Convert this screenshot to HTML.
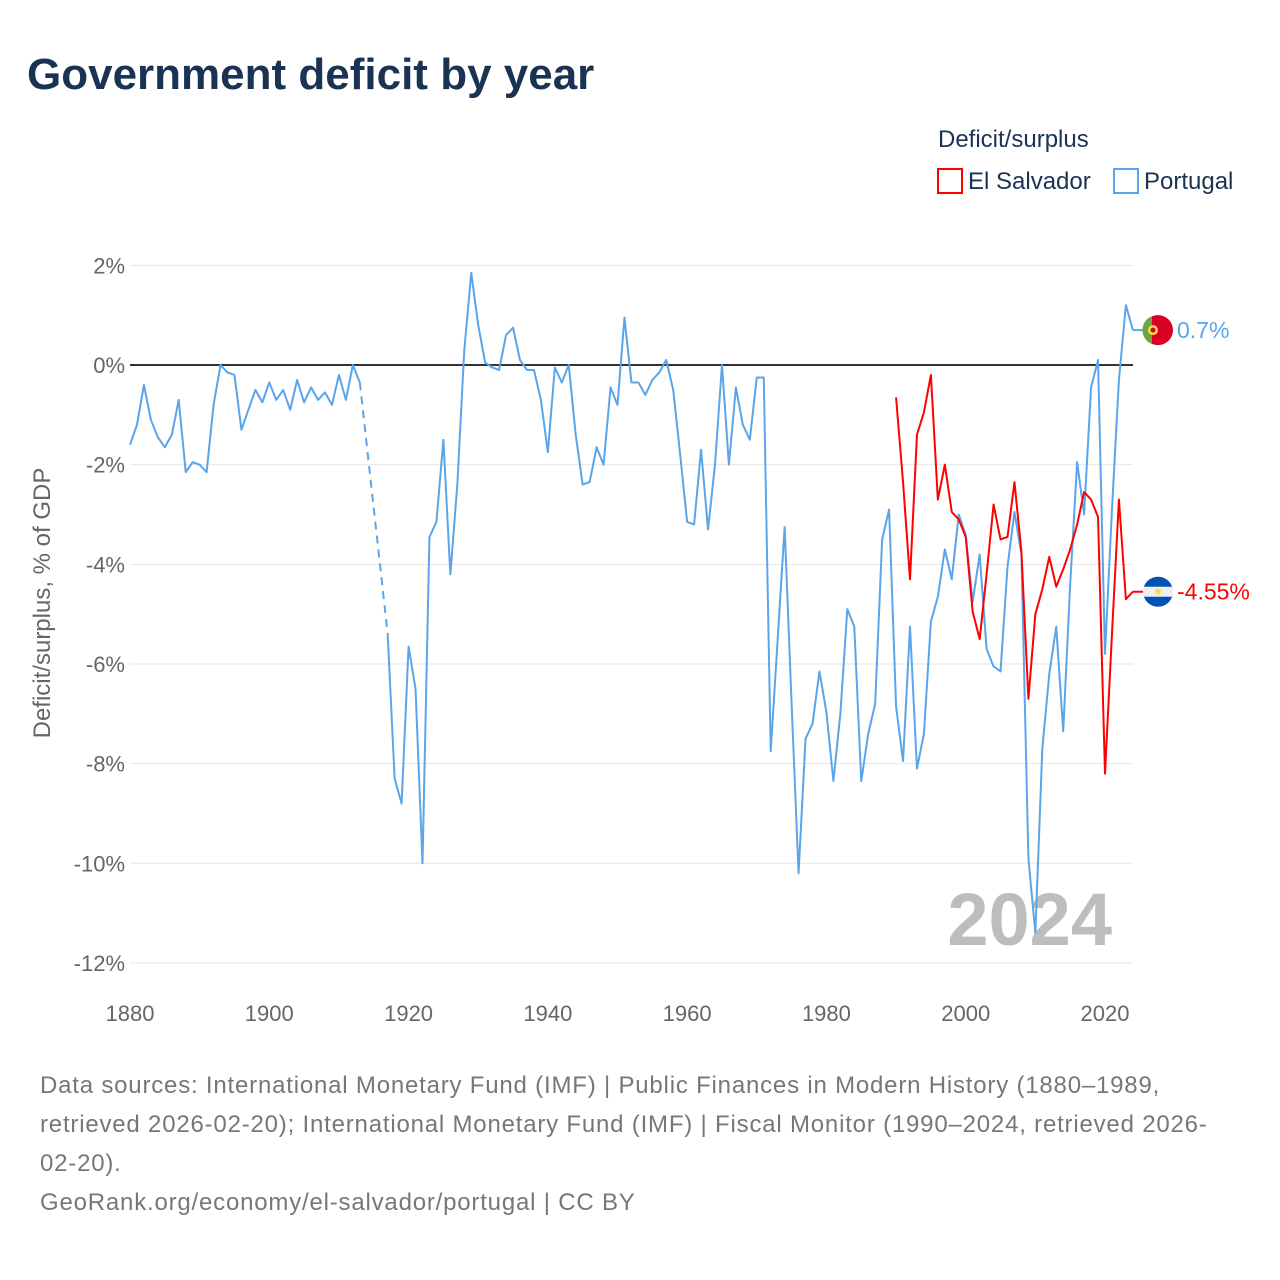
<!DOCTYPE html>
<html><head><meta charset="utf-8">
<style>
body{margin:0;background:#fff;font-family:"Liberation Sans",sans-serif;}
#wrap{position:relative;width:1280px;height:1280px;overflow:hidden;}
h1{position:absolute;left:27px;top:50px;margin:0;font-size:44px;font-weight:bold;color:#1b3353;letter-spacing:0px;}
.foot{position:absolute;left:40px;top:1066px;width:1230px;font-size:24px;line-height:39px;color:#777;letter-spacing:0.8px;white-space:nowrap;}
</style></head><body>
<div id="wrap">
<h1>Government deficit by year</h1>
<svg id="chart" width="1280" height="1280" style="position:absolute;left:0;top:0">
<text x="938" y="147" font-size="24" fill="#1b3353">Deficit/surplus</text>
<rect x="938" y="169" width="24" height="24" fill="none" stroke="#f00" stroke-width="2"/>
<text x="968" y="189" font-size="24" fill="#1b3353">El Salvador</text>
<rect x="1114" y="169" width="24" height="24" fill="none" stroke="#5aa5ea" stroke-width="2"/>
<text x="1144" y="189" font-size="24" fill="#1b3353">Portugal</text>
<text x="42" y="603" font-size="24" fill="#666" transform="rotate(-90 42 603)" text-anchor="middle" dy="8">Deficit/surplus, % of GDP</text>
<text x="1112" y="945" font-size="74" font-weight="bold" fill="#bdbdbd" text-anchor="end">2024</text>
<g id="grid"></g><g id="marks"></g>
</svg>
<div class="foot">Data sources: International Monetary Fund (IMF) | Public Finances in Modern History (1880–1989,<br>retrieved 2026-02-20); International Monetary Fund (IMF) | Fiscal Monitor (1990–2024, retrieved 2026-<br>02-20).<br><span>GeoRank.org/economy/el-salvador/portugal | CC BY</span></div>
</div>
<script>
const yTicks=[2,0,-2,-4,-6,-8,-10,-12];
const xTicks=[1880,1900,1920,1940,1960,1980,2000,2020];
const ptStart=1880;
const portugal=[-1.6,-1.2,-0.4,-1.1,-1.45,-1.65,-1.4,-0.7,-2.15,-1.95,-2.0,-2.15,-0.8,0.0,-0.15,-0.2,-1.3,-0.9,-0.5,-0.75,-0.35,-0.7,-0.5,-0.9,-0.3,-0.75,-0.45,-0.7,-0.55,-0.8,-0.2,-0.7,0.0,-0.35,null,null,null,-5.4,-8.3,-8.8,-5.65,-6.5,-10.0,-3.45,-3.15,-1.5,-4.2,-2.4,0.3,1.85,0.8,0.05,-0.05,-0.1,0.6,0.75,0.1,-0.1,-0.1,-0.7,-1.75,-0.05,-0.35,0.0,-1.4,-2.4,-2.35,-1.65,-2.0,-0.45,-0.8,0.95,-0.35,-0.35,-0.6,-0.3,-0.15,0.1,-0.5,-1.8,-3.15,-3.2,-1.7,-3.3,-2.0,0.0,-2.0,-0.45,-1.2,-1.5,-0.25,-0.25,-7.75,-5.5,-3.25,-6.8,-10.2,-7.5,-7.2,-6.15,-6.97,-8.35,-7.0,-4.9,-5.25,-8.35,-7.4,-6.8,-3.5,-2.9,-6.85,-7.95,-5.25,-8.1,-7.4,-5.15,-4.65,-3.7,-4.3,-3.0,-3.4,-4.75,-3.8,-5.7,-6.05,-6.15,-4.05,-2.95,-3.8,-9.9,-11.4,-7.7,-6.2,-5.25,-7.35,-4.4,-1.95,-3.0,-0.45,0.1,-5.8,-2.9,-0.3,1.2,0.7];
const svStart=1990;
const elSalvador=[-0.65,-2.35,-4.3,-1.4,-0.95,-0.2,-2.7,-2.0,-2.95,-3.1,-3.45,-4.95,-5.5,-4.2,-2.8,-3.5,-3.45,-2.35,-3.75,-6.7,-5.0,-4.5,-3.85,-4.45,-4.1,-3.7,-3.2,-2.55,-2.7,-3.05,-8.2,-5.4,-2.7,-4.7,-4.55];
const X=y=>130+(y-1880)*(975/140);
const Y=v=>365-v*49.83;
const NS='http://www.w3.org/2000/svg';
const grid=document.getElementById('grid'),marks=document.getElementById('marks');
function mk(tag,attrs,parent){const e=document.createElementNS(NS,tag);for(const k in attrs)e.setAttribute(k,attrs[k]);parent.appendChild(e);return e;}
yTicks.forEach(t=>{
  const l=mk('line',{x1:130,x2:1133,y1:Y(t),y2:Y(t),stroke:t===0?'#333':'#e6e6e6','stroke-width':t===0?2:1},grid);
  
  
  const tx=mk('text',{x:125,y:Y(t)+8,'text-anchor':'end','font-size':22,fill:'#666'},grid);
  tx.textContent=t+'%';
  
  
});
xTicks.forEach(t=>{
  const tx=mk('text',{x:X(t),y:1021,'text-anchor':'middle','font-size':22,fill:'#666'},grid);
  tx.textContent=t;
  
  
});
function drawSeries(vals,start,color,name){
  let segs=[],cur=[],gaps=[],last=null;
  vals.forEach((v,i)=>{const yr=start+i;
    if(v===null){if(cur.length)segs.push(cur);cur=[];return;}
    if(cur.length===0&&last){gaps.push([last,[yr,v]]);}
    cur.push([yr,v]);last=[yr,v];});
  if(cur.length)segs.push(cur);
  segs.forEach(s=>{
    const p=mk('polyline',{points:s.map(a=>X(a[0])+','+Y(a[1])).join(' '),fill:'none',stroke:color,'stroke-width':2,'stroke-linejoin':'round'},marks);
    
    
  });
  gaps.forEach(g=>{
    const p=mk('line',{x1:X(g[0][0]),y1:Y(g[0][1]),x2:X(g[1][0]),y2:Y(g[1][1]),stroke:color,'stroke-width':2,'stroke-dasharray':'8,6'},marks);
    
    
  });
}
drawSeries(portugal,ptStart,'#5aa5ea','portugal');
drawSeries(elSalvador,svStart,'#f00','el-salvador');
const pLast=portugal[portugal.length-1],sLast=elSalvador[elSalvador.length-1];
const endX=X(2024);
const c1=mk('line',{x1:endX,x2:1148,y1:Y(pLast),y2:Y(pLast),stroke:'#5aa5ea','stroke-width':2},marks);


const c2=mk('line',{x1:endX,x2:1148,y1:Y(sLast),y2:Y(sLast),stroke:'#f00','stroke-width':2},marks);


const fp=mk('g',{},marks);


const py=Y(pLast);
mk('circle',{cx:1158,cy:py,r:15,fill:'#d80027'},fp);
mk('path',{d:`M1152 ${py-14} A15 15 0 0 0 1152 ${py+14} Z`,fill:'#6da544'},fp);
mk('circle',{cx:1153,cy:py,r:5,fill:'#ffda44'},fp);
mk('circle',{cx:1153,cy:py,r:2.5,fill:'#d80027'},fp);
const pl=mk('text',{x:1177,y:py+8,'font-size':23,fill:'#5aa5ea'},marks);
pl.textContent=pLast+'%';


const fs=mk('g',{},marks);


const sy=Y(sLast);
mk('circle',{cx:1158,cy:sy,r:15,fill:'#0052b4'},fs);
mk('rect',{x:1143,y:sy-5,width:30,height:10,fill:'#f0f0f0'},fs);
mk('circle',{cx:1158,cy:sy,r:3,fill:'#ffda44'},fs);
const sl=mk('text',{x:1177,y:sy+8,'font-size':23,fill:'#f00'},marks);
sl.textContent=sLast+'%';


</script>
</body></html>
